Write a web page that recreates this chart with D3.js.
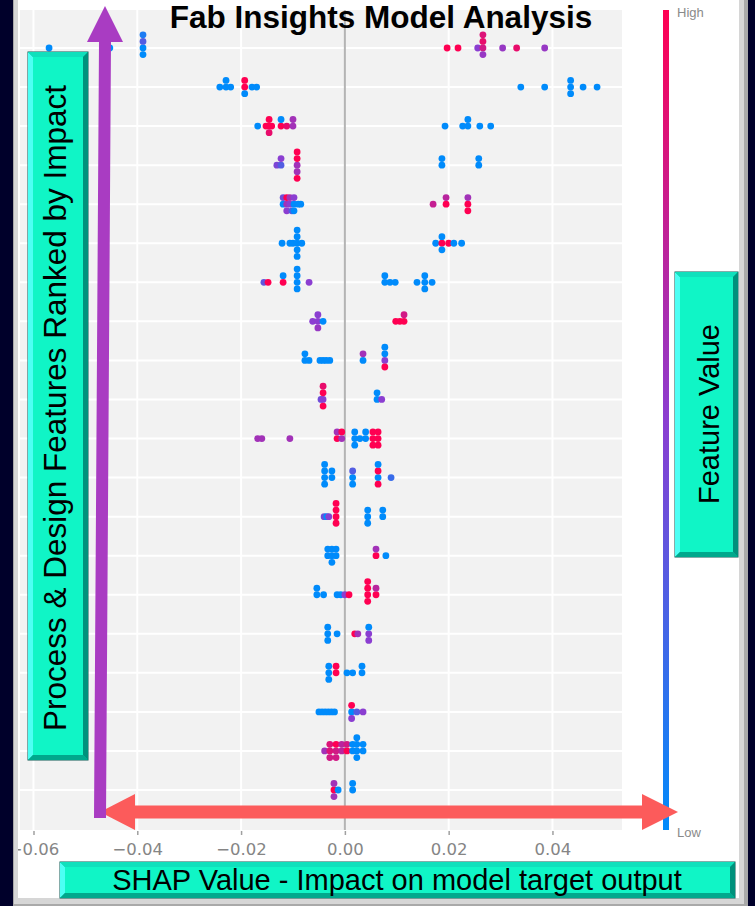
<!DOCTYPE html>
<html lang="en">

<head>
    <meta charset="utf-8">
    <title>Fab Insights Model Analysis</title>
    <script type="text/javascript" src="https://cdn.jsdelivr.net/npm/d3@7"></script>
    <style>
        body {
            margin: 0;
            background: #00002a;
        }

        text {
            font-family: "Liberation Sans", Arial, sans-serif;
        }
    </style>
</head>

<body>

    <script type="text/javascript">
        //Width and height
        var w = 755;
        var h = 906;

        // x ticks of the SHAP axis
        var xTicks = [-0.06, -0.04, -0.02, 0.00, 0.02, 0.04];

        // one list per feature row (top = most important): [shap value, feature value 0..1]
        var shapRows = [
            [[-0.0570, 0], [-0.0453, 0], [-0.0389, 0], [-0.0389, 0.3], [-0.0389, 0], [-0.0389, 0.1],
             [0.0197, 1], [0.0218, 1], [0.0256, 0.5], [0.0266, 0.8], [0.0266, 0.9], [0.0266, 0.55], [0.0266, 0.85],
             [0.0304, 0.55], [0.0331, 0.9], [0.0385, 0.55]],
            [[-0.0241, 0], [-0.0229, 0], [-0.0229, 0], [-0.0220, 0], [-0.0193, 1], [-0.0193, 1], [-0.0193, 0],
             [-0.0179, 0], [-0.0170, 0],
             [0.0339, 0], [0.0385, 0], [0.0435, 0], [0.0435, 0], [0.0435, 0], [0.0459, 0], [0.0486, 0]],
            [[-0.0168, 0], [-0.0152, 1], [-0.0146, 1], [-0.0146, 1], [-0.0146, 0.9], [-0.0141, 1],
             [-0.0123, 1], [-0.0123, 0], [-0.0112, 0.9], [-0.0100, 0.6], [-0.0100, 0.6],
             [0.0193, 0], [0.0227, 0], [0.0237, 0], [0.0237, 0], [0.0260, 0], [0.0281, 0]],
            [[-0.0131, 0.45], [-0.0123, 0.3], [-0.0123, 0.5],
             [-0.0092, 0.6], [-0.0092, 1], [-0.0092, 0.6], [-0.0092, 1], [-0.0092, 1],
             [0.0187, 0], [0.0187, 0], [0.0258, 0], [0.0258, 0]],
            [[-0.0119, 0], [-0.0119, 0.4], [-0.0112, 0.6], [-0.0112, 1], [-0.0112, 0.5], [-0.0106, 0.5],
             [-0.0106, 0.6], [-0.0102, 0.3], [-0.0098, 0], [-0.0098, 0.5], [-0.0098, 0], [-0.0090, 0], [-0.0085, 0],
             [0.0170, 0.75], [0.0195, 1], [0.0195, 0.7], [0.0237, 1], [0.0237, 0.6], [0.0237, 1]],
            [[-0.0121, 0], [-0.0106, 0], [-0.0100, 0], [-0.0092, 0], [-0.0092, 0], [-0.0092, 0], [-0.0092, 0],
             [-0.0092, 0], [-0.0083, 0],
             [0.0175, 0], [0.0187, 1], [0.0187, 0], [0.0187, 0], [0.0200, 1], [0.0210, 0], [0.0225, 0]],
            [[-0.0156, 0.35], [-0.0148, 1], [-0.0119, 1], [-0.0119, 0], [-0.0092, 0], [-0.0092, 0], [-0.0092, 0],
             [-0.0092, 0], [-0.0069, 0.5],
             [0.0077, 0], [0.0077, 0], [0.0087, 0], [0.0097, 0], [0.0139, 0], [0.0154, 0], [0.0154, 0],
             [0.0154, 0], [0.0168, 0]],
            [[-0.0062, 0.5], [-0.0052, 0.5], [-0.0052, 0.5], [-0.0052, 0.55], [-0.0042, 0],
             [0.0098, 1], [0.0106, 1], [0.0114, 1], [0.0114, 0.8]],
            [[-0.0077, 0], [-0.0077, 0], [-0.0069, 0], [-0.0048, 0], [-0.0042, 0], [-0.0036, 0], [-0.0029, 0],
             [0.0035, 0], [0.0035, 0.6], [0.0077, 0.5], [0.0077, 0], [0.0077, 1], [0.0077, 0]],
            [[-0.0046, 0.4], [-0.0042, 0.5], [-0.0042, 1], [-0.0042, 1], [-0.0042, 0.9],
             [0.0062, 0], [0.0062, 0], [0.0071, 0.5]],
            [[-0.0168, 0.6], [-0.0160, 0.6], [-0.0106, 0.6], [-0.0015, 1], [-0.0015, 0.6], [-0.0006, 0.6],
             [-0.0006, 1], [0.0019, 0], [0.0019, 0], [0.0019, 0], [0.0029, 0], [0.0040, 0], [0.0040, 0],
             [0.0054, 1], [0.0054, 1], [0.0054, 1], [0.0064, 1], [0.0064, 1], [0.0064, 1]],
            [[-0.0039, 0], [-0.0039, 0], [-0.0039, 0], [-0.0039, 0], [-0.0025, 0], [-0.0025, 0],
             [0.0015, 0], [0.0015, 0.3], [0.0015, 0], [0.0064, 0], [0.0064, 1], [0.0064, 1], [0.0064, 0],
             [0.0089, 0.2]],
            [[-0.0040, 0.4], [-0.0035, 0], [-0.0031, 0.5], [-0.0017, 1], [-0.0017, 1], [-0.0017, 1], [-0.0017, 1],
             [0.0044, 0], [0.0044, 0], [0.0044, 0], [0.0073, 0], [0.0073, 0]],
            [[-0.0033, 0], [-0.0033, 0], [-0.0025, 0], [-0.0025, 0], [-0.0025, 0], [-0.0017, 0], [-0.0017, 0],
             [0.0060, 1], [0.0060, 0.6], [0.0079, 0]],
            [[-0.0054, 0], [-0.0054, 0], [-0.0041, 0], [-0.0015, 0], [-0.0008, 0], [0.0000, 0.5], [0.0008, 1],
             [0.0044, 1], [0.0044, 1], [0.0044, 1], [0.0044, 1], [0.0060, 1], [0.0060, 0.7]],
            [[-0.0033, 0], [-0.0033, 0], [-0.0033, 0], [-0.0015, 0],
             [0.0019, 1], [0.0025, 0.6], [0.0046, 0.5], [0.0046, 0], [0.0046, 0.5]],
            [[-0.0031, 0], [-0.0031, 0], [-0.0031, 0], [-0.0017, 1], [-0.0017, 1],
             [0.0004, 0], [0.0015, 0], [0.0033, 0], [0.0033, 0]],
            [[-0.0050, 0], [-0.0044, 0], [-0.0038, 0], [-0.0032, 0], [-0.0026, 0], [-0.0020, 0],
             [0.0013, 0], [0.0013, 1], [0.0013, 0.5], [0.0023, 0.3], [0.0035, 0.5]],
            [[-0.0039, 0.6], [-0.0029, 0.85], [-0.0029, 0.85], [-0.0029, 0.8], [-0.0017, 0.8], [-0.0017, 1],
             [-0.0017, 0.8], [-0.0006, 0.7], [-0.0006, 0.7], [0.0004, 1], [0.0004, 0.8],
             [0.0015, 0], [0.0015, 0], [0.0023, 0], [0.0023, 0], [0.0023, 0], [0.0023, 0], [0.0035, 0], [0.0035, 0]],
            [[-0.0021, 1], [-0.0021, 0.6], [-0.0021, 0.6], [-0.0013, 0], [0.0015, 0], [0.0015, 0]]
        ];

        //Create SVG element
        var svg = d3.select("body")
            .append("svg")
            .attr("width", w).attr("height", h);

        var defs = svg.append("defs");

        // ---- outer frame ----
        svg.append("rect").attr("width", w).attr("height", h).attr("fill", "#00002a");
        svg.append("rect").attr("x", 13).attr("y", -5).attr("width", 735).attr("height", 911).attr("fill", "#a9a9a9");
        svg.append("rect").attr("x", 14).attr("y", -5).attr("width", 730).attr("height", 909).attr("fill", "#d6d6d6");
        svg.append("rect").attr("x", 18).attr("y", 0).attr("width", 721).attr("height", 898).attr("fill", "#ffffff");

        // ---- scales ----
        var x = d3.scaleLinear().domain([-0.0626, 0.0534]).range([20, 622]);
        var y = d3.scaleLinear().domain([0, shapRows.length - 1]).range([48, 790]);
        var plotTop = 10, plotBottom = 830;

        var color = d3.scaleLinear()
            .domain([0, 0.5, 1])
            .range(["#008bfb", "#8b3ed1", "#ff0052"]);

        // plot background
        svg.append("rect")
            .attr("x", x.range()[0]).attr("y", plotTop)
            .attr("width", x.range()[1] - x.range()[0]).attr("height", plotBottom - plotTop)
            .attr("fill", "#f2f2f2");

        // grid
        svg.selectAll("line.vgrid")
            .data(xTicks.filter(d => d !== 0))
            .enter()
            .append("line")
            .attr("x1", d => x(d)).attr("x2", d => x(d))
            .attr("y1", plotTop).attr("y2", plotBottom)
            .style("stroke", "#ffffff").style("stroke-width", 2);

        svg.selectAll("line.hgrid")
            .data(d3.range(shapRows.length))
            .enter()
            .append("line")
            .attr("x1", x.range()[0]).attr("x2", x.range()[1])
            .attr("y1", d => y(d)).attr("y2", d => y(d))
            .style("stroke", "#ffffff").style("stroke-width", 2);

        svg.append("line")
            .attr("x1", x(0)).attr("x2", x(0))
            .attr("y1", plotTop).attr("y2", plotBottom)
            .style("stroke", "#b4b4b4").style("stroke-width", 2);

        // ---- beeswarm: points sharing a pixel bin are stacked up/down ----
        var dots = [];
        shapRows.forEach(function (pts, i) {
            var bins = {};
            pts.forEach(function (p) {
                var px = x(p[0]);
                var key = Math.round(px / 3);
                var k = bins[key] = (bins[key] === undefined ? 0 : bins[key] + 1);
                var off = k === 0 ? 0 : (k % 2 === 1 ? -1 : 1) * Math.ceil(k / 2);
                dots.push({ cx: px, cy: y(i) + off * 6.6, f: p[1] });
            });
        });

        svg.selectAll("circle.dot")
            .data(dots)
            .enter()
            .append("circle")
            .attr("class", "dot")
            .attr("cx", d => d.cx)
            .attr("cy", d => d.cy)
            .attr("r", 3.4)
            .attr("fill", d => color(d.f));

        // ---- x axis ----
        var axis = svg.append("g")
            .attr("transform", "translate(0," + (plotBottom + 1) + ")")
            .call(d3.axisBottom(x).tickValues(xTicks).tickFormat(d3.format(".2f")).tickSize(4).tickPadding(8));
        axis.select(".domain").remove();
        axis.selectAll("line").style("stroke", "#a0a0a0").style("stroke-width", 1.5);
        axis.selectAll("text")
            .style("font-family", "'DejaVu Sans', sans-serif")
            .style("font-size", "16.5px")
            .style("fill", "#858585");

        // left frame edge sits over the first tick label
        svg.append("rect").attr("x", 0).attr("y", 0).attr("width", 13).attr("height", h).attr("fill", "#00002a");
        svg.append("rect").attr("x", 13).attr("y", 0).attr("width", 1).attr("height", h).attr("fill", "#a9a9a9");
        svg.append("rect").attr("x", 14).attr("y", 0).attr("width", 4).attr("height", 898).attr("fill", "#d6d6d6");

        // ---- colour bar ----
        var grad = defs.append("linearGradient")
            .attr("id", "cbar").attr("x1", 0).attr("y1", 1).attr("x2", 0).attr("y2", 0);
        [0, 0.5, 1].forEach(function (t) {
            grad.append("stop").attr("offset", t).attr("stop-color", color(t));
        });
        svg.append("rect")
            .attr("x", 663).attr("y", plotTop)
            .attr("width", 6).attr("height", plotBottom - plotTop)
            .attr("fill", "url(#cbar)");
        svg.append("text").attr("x", 677).attr("y", 17).text("High")
            .style("font-size", "13px").style("fill", "#8a8a8a");
        svg.append("text").attr("x", 677).attr("y", 837).text("Low")
            .style("font-size", "13px").style("fill", "#8a8a8a");

        // ---- title ----
        svg.append("text")
            .attr("x", 381).attr("y", 28)
            .attr("text-anchor", "middle")
            .style("font-size", "31.5px").style("font-weight", "bold").style("fill", "#000")
            .text("Fab Insights Model Analysis");

        // ---- arrows ----
        var arrowH = d3.path();
        arrowH.moveTo(100, 812); arrowH.lineTo(135, 794); arrowH.lineTo(135, 805.5);
        arrowH.lineTo(642, 805.5); arrowH.lineTo(642, 794); arrowH.lineTo(678, 812);
        arrowH.lineTo(642, 830); arrowH.lineTo(642, 818.5); arrowH.lineTo(135, 818.5);
        arrowH.lineTo(135, 830); arrowH.closePath();
        svg.append("path").attr("d", arrowH.toString()).attr("fill", "#fc5b5b");

        var arrowV = d3.path();
        arrowV.moveTo(94, 818); arrowV.lineTo(99, 42); arrowV.lineTo(87, 42); arrowV.lineTo(105, 6);
        arrowV.lineTo(123, 42); arrowV.lineTo(111, 42); arrowV.lineTo(106, 818); arrowV.closePath();
        svg.append("path").attr("d", arrowV.toString()).attr("fill", "#a93cc2");

        // ---- bevelled green label boxes ----
        function bevelBox(bx, by, bw, bh) {
            var b = 5;
            var g = svg.append("g");
            g.append("rect").attr("x", bx).attr("y", by).attr("width", bw).attr("height", bh)
                .attr("fill", "#00c9a4").attr("stroke", "#0d5a54").attr("stroke-width", 1);
            // left / top lit, right / bottom shaded
            g.append("path").attr("fill", "#4dfff4")
                .attr("d", "M" + bx + "," + by + "L" + (bx + b) + "," + (by + b) + "L" + (bx + b) + "," + (by + bh - b) + "L" + bx + "," + (by + bh) + "Z");
            g.append("path").attr("fill", "#10e0bc")
                .attr("d", "M" + bx + "," + by + "L" + (bx + bw) + "," + by + "L" + (bx + bw - b) + "," + (by + b) + "L" + (bx + b) + "," + (by + b) + "Z");
            g.append("path").attr("fill", "#00917c")
                .attr("d", "M" + (bx + bw) + "," + by + "L" + (bx + bw) + "," + (by + bh) + "L" + (bx + bw - b) + "," + (by + bh - b) + "L" + (bx + bw - b) + "," + (by + b) + "Z");
            g.append("path").attr("fill", "#00a88c")
                .attr("d", "M" + bx + "," + (by + bh) + "L" + (bx + bw) + "," + (by + bh) + "L" + (bx + bw - b) + "," + (by + bh - b) + "L" + (bx + b) + "," + (by + bh - b) + "Z");
            g.append("rect").attr("x", bx + b).attr("y", by + b).attr("width", bw - 2 * b).attr("height", bh - 2 * b)
                .attr("fill", "#10f5c6");
            return g;
        }

        bevelBox(28, 52, 60, 708);
        svg.append("text")
            .attr("transform", "translate(66,408) rotate(-90)")
            .attr("text-anchor", "middle")
            .style("font-size", "31.5px").style("fill", "#000")
            .text("Process & Design Features Ranked by Impact");

        bevelBox(675, 272, 63, 285);
        svg.append("text")
            .attr("transform", "translate(719,414) rotate(-90)")
            .attr("text-anchor", "middle")
            .style("font-size", "29px").style("fill", "#000")
            .text("Feature Value");

        bevelBox(60, 862, 675, 36);
        svg.append("text")
            .attr("x", 397).attr("y", 890)
            .attr("text-anchor", "middle")
            .style("font-size", "29px").style("fill", "#000")
            .text("SHAP Value - Impact on model target output");
    </script>

</body>

</html>
